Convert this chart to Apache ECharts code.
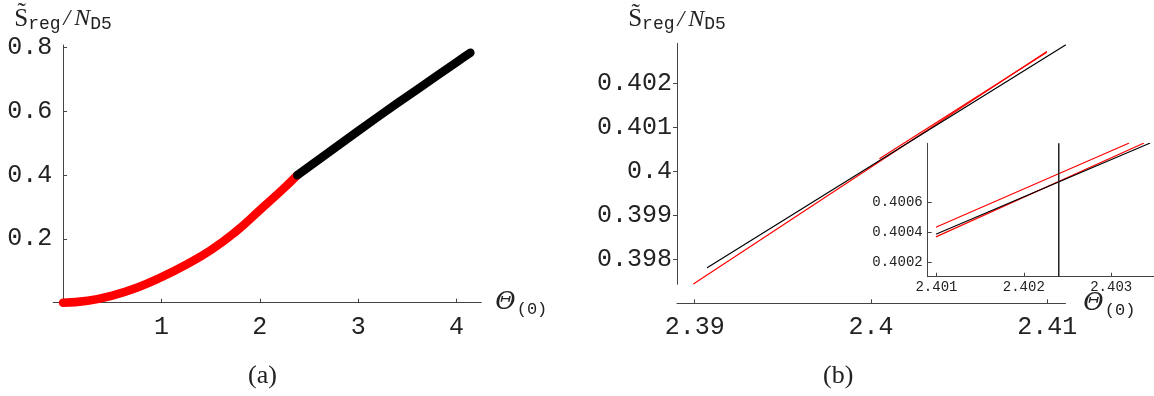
<!DOCTYPE html>
<html><head><meta charset="utf-8">
<script src="https://cdn.jsdelivr.net/npm/echarts@6/dist/echarts.min.js"></script>
<style>html,body{margin:0;padding:0;background:#fff}#c{width:1154px;height:396px}</style>
</head><body><div id="c"></div>
<script>
// ---- Panel (a) data ----
const aRedX = [0, 0.25, 0.5, 0.75, 1.0, 1.25, 1.5, 1.75, 2.0, 2.25, 2.38];
const aRedY = [0, 0.006, 0.022, 0.047, 0.08, 0.119, 0.164, 0.221, 0.290, 0.360, 0.399];
const aBlackX = [2.38, 2.8, 3.2, 3.6, 4.0, 4.14];
const aBlackY = [0.399, 0.493, 0.582, 0.668, 0.753, 0.783];
const aTicksX = [1, 2, 3, 4];
const aTicksY = [0.2, 0.4, 0.6, 0.8];
// ---- Panel (b) data ----
const bBlackX = [2.39073, 2.41103];
const bBlackY = [0.39781, 0.40287];
const bRed1X = [2.38995, 2.40995];
const bRed1Y = [0.39744, 0.40272];
const bRed2X = [2.4005, 2.40995];
const bRed2Y = [0.40029, 0.40270];
const bTicksX = [2.39, 2.40, 2.41];
const bTicksY = [0.398, 0.399, 0.400, 0.401, 0.402];
// ---- Inset data ----
const iRedUpX = [2.401, 2.40320];
const iRedUpY = [0.400435, 0.400993];
const iRedLowX = [2.401, 2.40337];
const iRedLowY = [0.400371, 0.400993];
const iBlackX = [2.401, 2.40344];
const iBlackY = [0.400389, 0.400993];
const iMarkX = [2.4024];
const iTicksX = [2.401, 2.402, 2.403];
const iTicksY = [0.4002, 0.4004, 0.4006];
const iYMin = 0.400104, iYMax = 0.400993;

const zip = (xs, ys) => xs.map((x, i) => [x, ys[i]]);
const fmt = v => String(+(+v).toFixed(4));
const mono = 'Liberation Mono';
const serif = 'Liberation Serif';
const axisColor = '#444';
const txt = '#222';

const xName = '{t|\u0398}{s|(0)}';
const xRich = {
  t: {fontFamily: 'DejaVu Serif', fontStyle: 'italic', fontSize: 25, color: txt},
  s: {fontFamily: mono, fontSize: 17, color: txt, padding: [14, 0, 0, 1]}
};
const yName = '{S|S\u0303}{r|reg}{sl|/}{N|N}{d|D5}';
const yRich = {
  S: {fontFamily: serif, fontSize: 25, color: txt},
  r: {fontFamily: mono, fontSize: 18, color: txt, padding: [10, 0, 0, 0]},
  sl: {fontFamily: serif, fontStyle: 'italic', fontSize: 24, color: txt, padding: [0, 4, 0, 3]},
  N: {fontFamily: serif, fontStyle: 'italic', fontSize: 24, color: txt},
  d: {fontFamily: mono, fontSize: 18, color: txt, padding: [10, 0, 0, 0]}
};

function xAx(grid, min, max, ticks, fs, margin, extra) {
  return Object.assign({
    gridIndex: grid, type: 'value', min: min, max: max,
    axisLine: {show: true, onZero: true, lineStyle: {color: axisColor, width: 1}},
    axisTick: {show: true, inside: true, length: 4, customValues: ticks, lineStyle: {color: axisColor}},
    axisLabel: {customValues: ticks, formatter: fmt, fontFamily: mono, fontSize: fs, color: txt, margin: margin},
    splitLine: {show: false}
  }, extra || {});
}
function yAx(grid, min, max, ticks, fs, margin, inside, extra) {
  return Object.assign({
    gridIndex: grid, type: 'value', min: min, max: max,
    axisLine: {show: true, onZero: true, lineStyle: {color: axisColor, width: 1}},
    axisTick: {show: true, inside: inside, length: 4, customValues: ticks, lineStyle: {color: axisColor}},
    axisLabel: {customValues: ticks, formatter: fmt, fontFamily: mono, fontSize: fs, color: txt, margin: margin},
    splitLine: {show: false}
  }, extra || {});
}
function line(xi, yi, xs, ys, color, width, extra) {
  return Object.assign({
    type: 'line', xAxisIndex: xi, yAxisIndex: yi, data: zip(xs, ys),
    showSymbol: false, symbol: 'none', silent: true,
    lineStyle: {color: color, width: width, cap: 'round', join: 'round'}
  }, extra || {});
}

const chart = echarts.init(document.getElementById('c'), null, {renderer: 'canvas'});
chart.setOption({
  animation: false,
  backgroundColor: '#fff',
  title: [
    {text: '(a)', left: 248, top: 363, padding: 0, textStyle: {fontFamily: serif, fontSize: 26, fontWeight: 'normal', color: txt}},
    {text: '(b)', left: 823, top: 363, padding: 0, textStyle: {fontFamily: serif, fontSize: 26, fontWeight: 'normal', color: txt}}
  ],
  grid: [
    {left: 53.2, right: 672.8, top: 45, bottom: 93.3},
    {left: 677, right: 88.5, top: 43.3, bottom: 111.7},
    {left: 927.7, right: 0, top: 143.3, bottom: 119.3}
  ],
  xAxis: [
    xAx(0, -0.1, 4.25, aTicksX, 25, 12, {name: xName, nameLocation: 'end', nameGap: 14, nameTextStyle: {rich: xRich}}),
    xAx(1, 2.389, 2.41103, bTicksX, 25, 12, {offset: 19, name: xName, nameLocation: 'end', nameGap: 9, nameTextStyle: {rich: xRich}}),
    xAx(2, 2.4009, 2.40349, iTicksX, 14, 4)
  ],
  yAxis: [
    yAx(0, 0, 0.807, aTicksY, 25, 1, true, {name: yName, nameLocation: 'end', nameGap: 12, nameTextStyle: {rich: yRich}}),
    yAx(1, 0.39743, 0.40291, bTicksY, 25, 5, false, {name: yName, nameLocation: 'end', nameGap: 10, nameTextStyle: {rich: yRich}}),
    yAx(2, iYMin, iYMax, iTicksY, 14, 5, true)
  ],
  series: [
    line(0, 0, aRedX, aRedY, '#ff0000', 8.5, {smooth: 0.5, smoothConstraint: false}),
    line(0, 0, aBlackX, aBlackY, '#000000', 8.5, {smooth: 0.3}),
    line(1, 1, bRed1X, bRed1Y, '#ff0000', 1.2),
    line(1, 1, bRed2X, bRed2Y, '#ff0000', 1.2),
    line(1, 1, bBlackX, bBlackY, '#000000', 1.2),
    line(2, 2, iRedUpX, iRedUpY, '#ff0000', 1.2),
    line(2, 2, iRedLowX, iRedLowY, '#ff0000', 1.2),
    line(2, 2, iBlackX, iBlackY, '#000000', 1.2),
    line(2, 2, [iMarkX[0], iMarkX[0]], [iYMin, iYMax], '#222222', 1.5, {lineStyle: {color: '#222', width: 1.5, cap: 'butt'}})
  ]
});
</script></body></html>
